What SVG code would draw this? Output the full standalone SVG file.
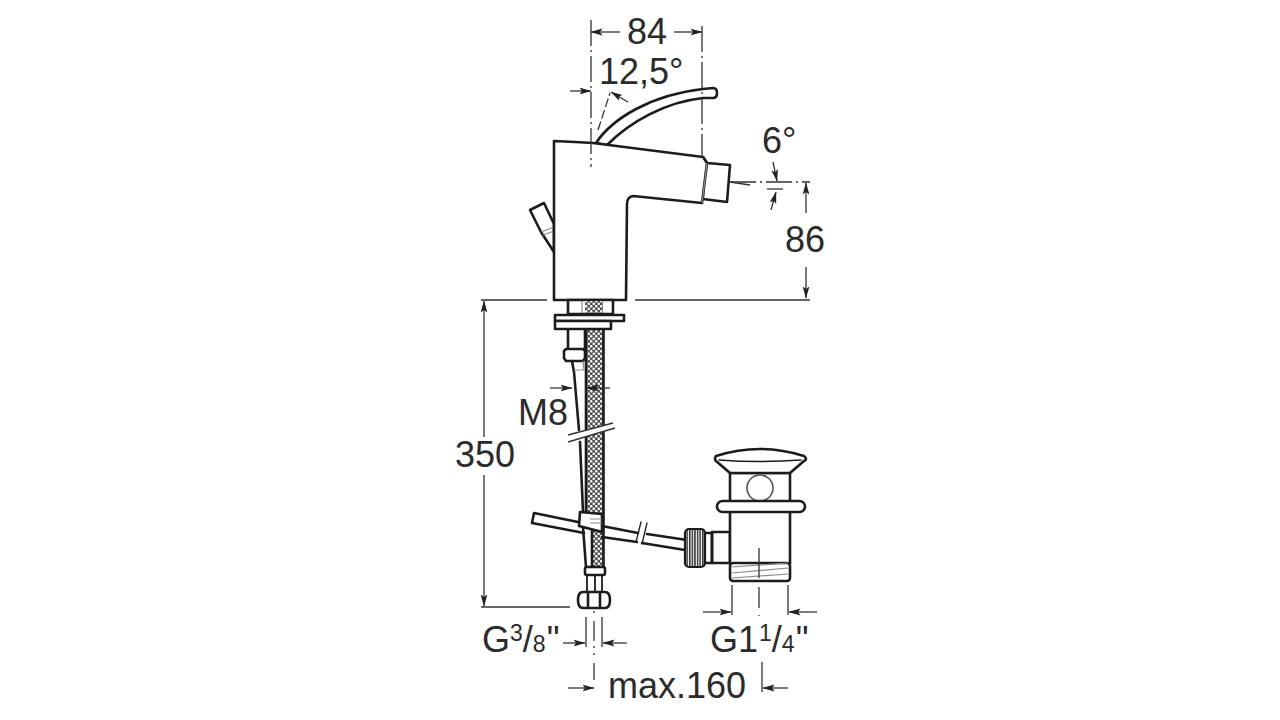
<svg xmlns="http://www.w3.org/2000/svg" width="1280" height="720" viewBox="0 0 1280 720">
<style>
.o{fill:#fff;stroke:#1c1c1c;stroke-width:2.6;stroke-linejoin:round;stroke-linecap:round}
.n{fill:none;stroke:#1c1c1c;stroke-width:2.6;stroke-linecap:round;stroke-linejoin:round}
.g{fill:none;stroke:#8a8a8a;stroke-width:1.2}
.d{fill:none;stroke:#333;stroke-width:1.3}
.c{stroke-dasharray:26 4 2 4}
.a{fill:none;stroke:#333;stroke-width:1.3;marker-end:url(#ah)}
text{font-family:"Liberation Sans",Arial,sans-serif;font-size:36px;fill:#2b2b2b}
.s{font-size:23px}
</style>
<defs>
<marker id="ah" markerUnits="userSpaceOnUse" markerWidth="12" markerHeight="8" refX="11.5" refY="4" orient="auto"><path d="M0 .6L12 4L0 7.4L2.5 4Z" fill="#222"/></marker>
<pattern id="mesh" width="5" height="5" patternUnits="userSpaceOnUse"><rect width="5" height="5" fill="#555"/><circle cx="1.25" cy="1.25" r="1.3" fill="#f6f6f6"/><circle cx="3.75" cy="3.75" r="1.3" fill="#f6f6f6"/></pattern>
<pattern id="knurl" width="2.6" height="4" patternUnits="userSpaceOnUse"><rect width="2.6" height="4" fill="#fff"/><rect width="1.5" height="4" fill="#333"/></pattern>
</defs>

<g id="mixer">
<path class="o" d="M596 143C612 119 650 95 703 89L713 88Q717 88 717 93Q717 98 713 98L703 98C665 102 630 122 607 145Z"/>
<path class="o" d="M530 210L544 203L554 224L554 252L541 232Z"/>
<path class="g" d="M541 232L554 227M543 235L554 231"/>
<path class="o" d="M703 157L707 163L730 165L727 202L703 199Z"/>
<path class="o" d="M554 141L575 142L593 143L703 157L707 163L702 203L633 196Q627 197 627 204L626 300L554 300Z"/>
<path class="g" d="M707 163L702 203"/>
<rect class="o" x="568" y="300" width="45" height="14"/>
<rect x="585" y="301" width="18" height="12" fill="url(#mesh)"/>
<path class="g" d="M582 301V313"/>
</g>

<g id="hose">
<rect x="586" y="328" width="17" height="185" fill="url(#mesh)"/>
<rect x="592" y="528" width="11" height="39" fill="url(#mesh)"/>
<path class="n" d="M586 328V512M603.5 328V567M592 527V567"/>
<path class="o" d="M555 315H624V321H555Z"/>
<path class="o" d="M555 321H611V329H555Z"/>
<path class="n" d="M568 329V349M585 329V349"/>
<path class="o" d="M566 349H583L585 351V358L583 361H566L564 358V351Z"/>
<path class="n" d="M572 361L574 372L579 430M580 442L583 512"/>
<path class="g" d="M583 361L584 370H574"/>
<path fill="#fff" d="M566 435L616 423V428L566 442Z"/>
<path class="d" d="M568 435L613 423M568 442L615 428" style="stroke-width:1.6"/>
<path class="n" d="M583 527L586 567"/>
<rect class="o" x="585" y="567" width="20" height="8" rx="2"/>
<path class="n" d="M587 575V592M602 575V592M595 575V592" style="stroke-width:1.8"/>
<path class="o" d="M583 592H605Q610 592 610 600Q610 608 605 608H583Q578 608 578 600Q578 592 583 592Z"/>
<path class="n" d="M588 593V607M600 593V607"/>
</g>

<g id="rod">
<path class="n" d="M534 513L578 522M602 526L638 533M647 534L687 540M534 513L532 523L584 533M602 537L637 542M642 543L685 550"/>
<path class="n" d="M641 522L636 542M647 523L642 544" style="stroke-width:1.3"/>
<path class="o" d="M580 512L602 514V532L583 527L579 526Z"/>
<path class="g" d="M590 519H602M590 523H602"/>
</g>

<g id="waste">
<path class="o" d="M730 532H712V563H730Z"/>
<rect x="685" y="529" width="20" height="38" rx="4" fill="url(#knurl)" stroke="#1c1c1c" stroke-width="2.2"/>
<path class="n" d="M705 533H712V563H705"/>
<rect class="o" x="730" y="473" width="60" height="30"/>
<circle cx="760" cy="488" r="13" fill="#fff" stroke="#555" stroke-width="1.6"/>
<path class="o" d="M730 473L716 461Q714 459 716 456Q760 442 804 456Q808 459 804 461L790 473Z"/>
<path class="n" d="M719 460Q760 463 801 460" style="stroke-width:1.5"/>
<rect class="o" x="730" y="511" width="60" height="53"/>
<rect class="o" x="717" y="501" width="88" height="11" rx="5.5"/>
<rect class="o" x="730" y="563" width="60" height="18" rx="3"/>
<path class="g" d="M732 567L788 563M732 573L788 568M732 578L788 574"/>
<path class="d" d="M759 548V578"/>
</g>

<g id="connectors">
<path class="d c" d="M591 20V167"/>
<path class="d c" d="M702 26V157"/>
<path class="a" d="M620 32H591"/>
<path class="a" d="M674 32H702"/>
<path class="a" d="M570 91H591"/>
<path class="d" d="M598 130L610 93" stroke-dasharray="9 3"/>
<path class="a" d="M628 102L611 92"/>
<path class="d c" d="M730 182H810"/>
<path class="d" d="M730 182L750 185"/>
<path class="a" d="M773 162L777 181"/>
<path class="d" d="M767 189L783 189"/>
<path class="a" d="M771 210L776 192"/>
<path class="a" d="M806 213V183"/>
<path class="a" d="M806 267V298"/>
<path class="d" d="M481 300H547M635 300H810" style="stroke-width:1.5"/>
<path class="a" d="M484 437V301"/>
<path class="a" d="M484 475V606"/>
<path class="d" d="M481 607H570"/>
<path class="a" d="M550 388H572"/>
<path class="a" d="M610 388H587"/>
<path class="d" d="M586 617V647M602 617V647"/>
<path class="d" d="M594 611V680" stroke-dasharray="2 8 20 5 2 5"/>
<path class="a" d="M563 643H585"/>
<path class="a" d="M627 643H603"/>
<path class="a" d="M568 688H594"/>
<path class="d" d="M762 662V692"/>
<path class="a" d="M788 688H763"/>
<path class="d" d="M732 585V615M788 585V615"/>
<path class="d" d="M759 587V608M759 615V616"/>
<path class="a" d="M703 612H731"/>
<path class="a" d="M817 612H789"/>
</g>

<g id="labels">
<text x="627" y="44">84</text>
<text x="599" y="84">12,5°</text>
<text x="762" y="153">6°</text>
<text x="785" y="252">86</text>
<text x="518" y="425">M8</text>
<text x="455" y="467">350</text>
<text x="482" y="652">G<tspan class="s" dy="-11">3</tspan><tspan dy="11">/</tspan><tspan class="s">8</tspan><tspan dx="1">"</tspan></text>
<text x="710" y="652">G1<tspan class="s" dy="-11" dx="1">1</tspan><tspan dy="11">/</tspan><tspan class="s">4</tspan><tspan dx="1">"</tspan></text>
<text x="608" y="698">max.160</text>
</g>
</svg>
